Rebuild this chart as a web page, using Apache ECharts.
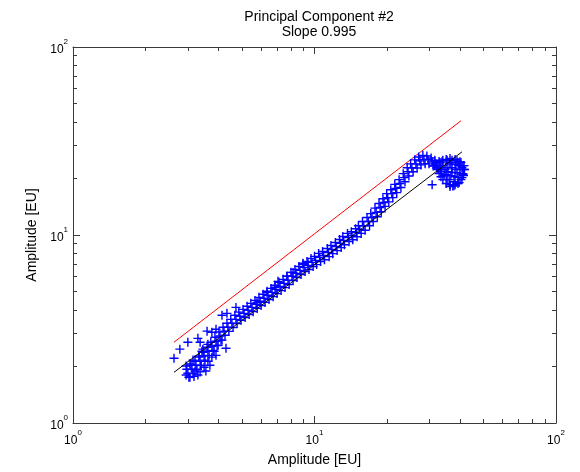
<!DOCTYPE html>
<html>
<head>
<meta charset="utf-8">
<script src="https://cdn.jsdelivr.net/npm/echarts@6/dist/echarts.min.js"></script>
<style>html,body{margin:0;padding:0;background:#fff}#c{width:580px;height:472px}</style>
</head>
<body>
<div id="c"></div>
<script>
// ---- data ----
const titleLines = ['Principal Component #2', 'Slope 0.995'];
const axisName = 'Amplitude [EU]';
const majorTicks = [1, 10, 100];
const tickExponents = { 1: '0', 10: '1', 100: '2' };
const minorTicks = [2, 3, 4, 5, 6, 7, 8, 9, 20, 30, 40, 50, 60, 70, 80, 90];

const lowCluster = [
  [2.94,1.80],[3.05,1.75],[3.17,1.77],[3.29,1.80],[3.20,1.89],[3.36,1.87],[3.49,1.98],[3.55,1.89],
  [3.69,2.03],[3.62,2.13],[3.76,2.24],[3.42,2.41],[3.32,2.27],[3.84,2.41],[3.99,2.59],[4.14,2.76],
  [3.62,2.62],[3.45,2.47],[3.05,2.06],[2.94,2.01],[3.39,2.03],[3.91,2.29]
];
const bandCenter = [
  [2.99,1.84],[3.11,1.93],[3.23,2.03],[3.36,2.13],[3.49,2.27],[3.62,2.41],[3.76,2.56],[3.91,2.72],
  [4.06,2.90],[4.22,3.08],[4.38,3.23],[4.55,3.39],[4.73,3.56],[4.91,3.70],[5.11,3.83],[5.31,3.98],
  [5.51,4.12],[5.73,4.28],[5.95,4.44],[6.18,4.61],[6.42,4.78],[6.67,4.95],[6.93,5.14],[7.20,5.33],
  [7.48,5.53],[7.77,5.74],[8.07,6.03],[8.38,6.25],[8.71,6.48],[9.05,6.73],[9.40,6.89],[9.77,7.15],
  [10.1,7.33],[10.5,7.60],[10.9,7.78],[11.4,8.07],[11.8,8.38],[12.3,8.69],[12.8,9.02],[13.2,9.35],
  [13.8,9.70],[14.3,9.94],[14.9,10.3],[15.4,10.7],[16.0,11.2],[16.7,11.8],[17.3,12.4],[18.0,13.2],
  [18.7,14.0],[19.4,14.9],[20.1,15.8],[20.9,16.6],[21.7,17.7],[22.6,18.8],[23.5,20.2],[24.4,21.7],
  [25.3,22.8],[26.3,23.9],[27.3,24.8],[28.4,25.2],[29.5,25.2],[30.7,24.5],[31.8,23.9],[33.1,23.4]
];
const bandEdge = [
  [2.96,1.93],[3.14,1.83],[3.20,2.13],[3.39,2.02],[3.46,2.38],[3.66,2.29],[3.72,2.69],[3.95,2.58],
  [4.02,3.05],[4.26,2.93],[4.34,3.39],[4.60,3.22],[4.68,3.74],[4.96,3.52],[5.06,4.02],[5.36,3.78],
  [5.45,4.33],[5.79,4.07],[5.89,4.66],[6.24,4.38],[6.36,5.02],[6.74,4.70],[6.86,5.40],[7.27,5.06],
  [7.41,5.81],[7.85,5.45],[7.99,6.33],[8.46,5.94],[8.62,6.80],[9.14,6.39],[9.31,7.23],[9.87,6.79],
  [10.0,7.70],[10.6,7.22],[10.8,8.17],[11.5,7.67],[11.7,8.80],[12.4,8.26],[12.7,9.47],[13.3,8.88],
  [13.7,10.2],[14.4,9.44],[14.8,10.8],[15.6,10.2],[15.8,11.8],[16.9,11.2],[17.1,13.0],[18.2,12.5],
  [18.5,14.7],[19.6,14.2],[19.9,16.6],[21.1,15.8],[21.5,18.6],[22.8,17.9],[23.3,21.2],[24.6,20.6],
  [25.0,23.9],[26.6,22.7],[27.0,26.0],[28.7,23.9],[29.2,26.3],[31.0,23.3],[31.5,25.0],[33.4,22.2]
];
const bandEdgeOther = [
  [3.02,1.75],[3.08,2.03],[3.26,1.93],[3.33,2.24],[3.52,2.16],[3.59,2.53],[3.80,2.43],[3.87,2.86],
  [4.10,2.76],[4.18,3.23],[4.42,3.07],[4.50,3.56],[4.78,3.38],[4.86,3.89],[5.16,3.64],[5.26,4.18],
  [5.57,3.91],[5.67,4.49],[6.01,4.22],[6.12,4.84],[6.48,4.54],[6.60,5.20],[7.00,4.88],[7.13,5.60],
  [7.55,5.25],[7.69,6.03],[8.15,5.73],[8.30,6.56],[8.80,6.16],[8.96,7.07],[9.49,6.55],[9.67,7.51],
  [10.2,6.96],[10.4,7.98],[11.0,7.39],[11.3,8.47],[11.9,7.96],[12.2,9.12],[12.9,8.57],[13.1,9.82],
  [13.9,9.22],[14.2,10.4],[15.0,9.79],[15.2,11.2],[16.2,10.6],[16.5,12.4],[17.5,11.8],[17.8,13.9],
  [18.9,13.3],[19.2,15.6],[20.3,15.0],[20.7,17.4],[21.9,16.8],[22.4,19.7],[23.7,19.2],[24.2,22.8],
  [25.6,21.7],[26.0,25.1],[27.6,23.6],[28.1,26.5],[29.8,23.9],[30.4,25.7],[32.1,22.7],[32.8,24.6]
];
const upperOutliers = [
  [2.62,2.21],[2.77,2.47],[2.99,2.69],[3.29,2.82],[3.36,2.69],[3.14,2.16],[3.59,3.08],[3.91,3.15],
  [4.14,3.74],[4.34,3.83],[4.30,2.50],[3.76,3.04],[4.73,4.12],[5.78,4.38],[6.36,4.95],[6.86,5.27],
  [7.06,5.67],[7.69,6.03],[8.15,6.32],[8.96,6.98],[9.40,7.15]
];
const blob = [
  [33.7,24.5],[35.1,25.2],[36.4,25.5],[38.2,25.2],[40.0,24.5],[41.6,23.4],[41.8,22.3],[41.2,21.2],
  [39.3,20.2],[37.8,19.2],[36.4,18.5],[37.4,18.2],[35.4,19.7],[34.4,20.7],[35.7,21.7],[37.1,22.8],
  [38.5,23.7],[40.0,22.3],[38.9,21.5],[36.7,20.7],[34.7,22.3],[36.1,23.9],[40.8,20.2],[38.2,18.5],
  [33.4,21.7],[32.5,22.3],[39.7,19.0],[41.4,20.7],[30.7,18.5]
];
const blobInner = [
  [34.0,25.0],[35.4,25.0],[37.1,25.0],[38.9,24.8],[40.4,24.3],[41.2,23.4],[41.6,22.3],[41.2,20.9],
  [40.4,19.7],[39.3,18.8],[37.8,18.3],[36.4,18.1],[35.1,18.8],[34.0,19.7],[33.4,20.4],[32.8,21.2],
  [34.0,23.4],[35.4,22.8],[36.7,24.3],[38.2,22.3],[39.7,23.4],[40.8,22.8],[38.2,20.4],[36.1,19.7],
  [35.1,20.9],[37.1,21.5],[39.3,24.3],[32.2,22.8],[31.3,23.4],[33.1,24.3]
];
const referenceLine = [[2.62, 2.69], [40.4, 40.5]];
const fitLine = [[2.62, 1.86], [40.8, 27.7]];

// ---- chart ----
const FONT = '"Liberation Sans", Arial, sans-serif';
const AX = '#3a3a3a';
const plus = 'path://M3.8,0 H5.2 V3.8 H9 V5.2 H5.2 V9 H3.8 V5.2 H0 V3.8 H3.8 Z';

function expLabel(v) {
  const e = tickExponents[Math.round(v)];
  return '{b|10}{s|' + e + '}';
}
const richLab = {
  b: { fontSize: 12, fontFamily: FONT, color: '#000', lineHeight: 18, verticalAlign: 'bottom' },
  s: { fontSize: 8, fontFamily: FONT, color: '#000', lineHeight: 8, verticalAlign: 'top' }
};

function logAxis(opts) {
  const base = {
    type: 'log', logBase: 10, min: 1, max: 100,
    splitLine: { show: false },
    axisLine: { show: true, lineStyle: { color: AX, width: 1 } },
    axisLabel: { show: false },
    axisTick: { show: true, inside: true, length: 7, lineStyle: { color: AX }, customValues: majorTicks },
    minorTick: { show: false }
  };
  return Object.assign(base, opts);
}
const minorTickStyle = { show: true, inside: true, length: 4, lineStyle: { color: AX }, customValues: minorTicks };

const xAxes = [
  logAxis({
    position: 'bottom',
    name: axisName, nameLocation: 'middle', nameGap: 30,
    nameTextStyle: { fontSize: 14, fontFamily: FONT, color: '#000' },
    axisLabel: { show: true, margin: 6, formatter: expLabel, rich: richLab, customValues: majorTicks }
  }),
  logAxis({ position: 'bottom', axisLine: { show: false }, axisTick: minorTickStyle }),
  logAxis({ position: 'top' }),
  logAxis({ position: 'top', axisLine: { show: false }, axisTick: minorTickStyle })
];
const yAxes = [
  logAxis({
    position: 'left',
    name: axisName, nameLocation: 'middle', nameGap: 34, nameRotate: 90,
    nameTextStyle: { fontSize: 14, fontFamily: FONT, color: '#000' },
    axisLabel: { show: true, margin: 5, formatter: expLabel, rich: richLab, customValues: majorTicks }
  }),
  logAxis({ position: 'left', axisLine: { show: false }, axisTick: minorTickStyle }),
  logAxis({ position: 'right' }),
  logAxis({ position: 'right', axisLine: { show: false }, axisTick: minorTickStyle })
];

const chart = echarts.init(document.getElementById('c'), null, { renderer: 'canvas' });
chart.setOption({
  animation: false,
  backgroundColor: '#fff',
  title: {
    text: titleLines.join('\n'),
    left: 314, top: 5, textAlign: 'center',
    textStyle: { fontSize: 14, fontWeight: 'normal', fontFamily: FONT, color: '#000', lineHeight: 15 }
  },
  grid: { left: 73, right: 24, top: 47, bottom: 48, containLabel: false },
  xAxis: xAxes,
  yAxis: yAxes,
  series: [
    {
      type: 'line', data: referenceLine, symbol: 'none', silent: true,
      lineStyle: { color: '#ff0000', width: 1 }, z: 1
    },
    {
      type: 'scatter', silent: true,
      data: [].concat(lowCluster, bandCenter, bandEdge, bandEdgeOther, upperOutliers, blob, blobInner),
      symbol: plus, symbolSize: 9,
      itemStyle: { color: '#0000ff', opacity: 1 }, z: 2
    },
    {
      type: 'line', data: fitLine, symbol: 'none', silent: true,
      lineStyle: { color: '#000000', width: 1 }, z: 3
    }
  ]
});
</script>
</body>
</html>
